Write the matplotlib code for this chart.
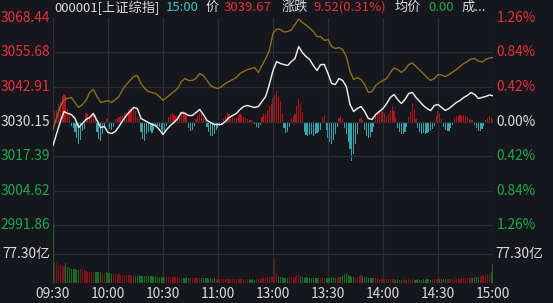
import numpy as np
import matplotlib
matplotlib.use("Agg")
import matplotlib.pyplot as plt

plt.rcParams['font.family'] = ['Noto Sans CJK SC', 'DejaVu Sans']

# ---------------- data ----------------
prev_close = 3030.15
price_ticks = [3068.44, 3055.68, 3042.91, 3030.15, 3017.39, 3004.62, 2991.86]
pct_labels = ['1.26%', '0.84%', '0.42%', '0.00%', '0.42%', '0.84%', '1.26%']
time_labels = ['09:30', '10:00', '10:30', '11:00', '13:00', '13:30', '14:00', '14:30', '15:00']
time_pos = [0, 30, 60, 90, 120, 150, 180, 210, 240]
vol_tick = 77.30

# index price, sampled every 2 minutes (121 points)
price = [3021.27, 3025.71, 3030.15, 3033.85, 3033.11, 3032.74, 3031.26, 3027.93, 3029.41, 3030.89,
         3031.63, 3033.11, 3030.52, 3027.93, 3028.30, 3026.08, 3025.71, 3026.45, 3028.30, 3030.52,
         3032.37, 3033.85, 3035.33, 3034.96, 3031.26, 3030.52, 3029.78, 3029.04, 3028.67, 3027.19,
         3025.34, 3027.19, 3028.67, 3029.78, 3031.26, 3033.48, 3033.11, 3032.37, 3032.37, 3033.48,
         3034.59, 3032.74, 3030.52, 3029.78, 3029.04, 3029.04, 3029.04, 3030.15, 3031.63, 3032.37,
         3033.11, 3034.59, 3035.70, 3036.07, 3035.70, 3035.33, 3035.70, 3037.55, 3039.40, 3043.83,
         3049.01, 3052.34, 3051.60, 3051.23, 3050.86, 3052.34, 3053.45, 3057.89, 3055.67, 3054.19,
         3053.08, 3050.86, 3049.01, 3051.23, 3051.23, 3047.90, 3044.20, 3043.83, 3046.05, 3045.31,
         3043.10, 3036.44, 3033.85, 3034.96, 3035.70, 3033.85, 3031.26, 3030.89, 3032.74, 3033.85,
         3034.96, 3036.81, 3039.03, 3040.14, 3038.29, 3036.81, 3038.29, 3040.51, 3040.88, 3039.03,
         3037.55, 3036.07, 3034.96, 3034.22, 3036.07, 3036.44, 3035.33, 3034.22, 3034.96, 3036.07,
         3037.18, 3037.92, 3039.03, 3039.77, 3040.88, 3040.14, 3038.66, 3039.03, 3039.40, 3039.95,
         3039.67]

# gold reference line, sampled every 2 minutes (121 points)
ref_line = [3027.19, 3031.63, 3035.70, 3038.29, 3038.66, 3039.03, 3037.18, 3035.33, 3036.44, 3037.92,
            3040.88, 3041.99, 3039.40, 3037.18, 3037.55, 3037.92, 3037.18, 3038.29, 3039.40, 3041.99,
            3043.83, 3045.31, 3046.79, 3047.16, 3044.20, 3042.36, 3041.25, 3040.88, 3040.51, 3039.40,
            3037.92, 3039.03, 3040.14, 3041.25, 3042.36, 3044.94, 3046.05, 3045.31, 3045.31, 3046.05,
            3047.90, 3047.16, 3045.31, 3043.46, 3042.73, 3042.36, 3043.10, 3044.20, 3044.94, 3045.68,
            3046.42, 3047.90, 3048.64, 3049.38, 3049.75, 3050.12, 3048.27, 3050.86, 3053.45, 3056.41,
            3062.70, 3064.36, 3064.18, 3063.25, 3063.44, 3063.99, 3066.03, 3068.06, 3066.77, 3065.84,
            3064.73, 3063.44, 3061.59, 3061.59, 3060.11, 3060.48, 3057.89, 3057.15, 3057.52, 3056.78,
            3054.19, 3048.64, 3045.68, 3046.42, 3045.68, 3043.83, 3040.88, 3041.25, 3043.46, 3044.57,
            3045.31, 3046.05, 3048.27, 3049.94, 3049.38, 3048.27, 3049.38, 3051.23, 3051.79, 3050.49,
            3049.20, 3047.90, 3046.42, 3045.31, 3046.05, 3047.53, 3047.35, 3046.79, 3047.53, 3048.46,
            3049.38, 3050.49, 3051.60, 3052.34, 3053.27, 3053.45, 3052.53, 3052.16, 3053.08, 3053.64,
            3053.82]

# per-minute strength bars (241)
strength = [8, 11, 12, 18, 20, 26, 28, 27, 13, 10,
            -4, -6, -10, -16, -22, -18, -9, -7, 9, 8,
            5, 6, 8, 7, -10, -17, -19, -12, -6, 3,
            4, -7, -8, -5, 3, 4, 5, 6, 7, 9,
            10, 12, 13, 14, 13, 11, 5, 3, -10, -17,
            -19, -12, -10, -9, -11, -8, -5, -4, -5, -8,
            -11, -9, -4, 5, 8, 9, 7, 6, 6, 5,
            8, 11, 10, 6, -6, -9, -8, -4, 3, 7,
            9, 8, 4, 3, -5, -10, -14, -14, -12, -8,
            -6, -4, -2, 3, 6, 9, 8, 6, 5, 4,
            4, 6, 8, 7, 5, 4, 3, 2, 2, 1,
            -2, -5, -6, -3, 5, 8, 8, 12, 16, 18,
            24, 27, 31, 25, 21, 9, -6, -11, -10, -5,
            4, 6, 8, 16, 23, 18, 10, -10, -13, -14,
            -13, -12, -14, -12, -11, -10, -8, 5, 7, -8,
            -16, -20, -22, -18, -12, -5, 4, 6, 3, -6,
            -12, -20, -27, -39, -32, -22, -12, 3, 4, 2,
            -8, -14, -16, -15, -10, -5, 6, 10, 11, 13,
            10, 9, 6, 8, 12, 16, 11, 4, -6, -10,
            -12, -12, -10, -5, 5, 10, 18, 13, 3, -6,
            -10, -12, -11, -12, -11, -10, -9, -7, -4, 6,
            11, 9, 3, -5, -8, -9, -9, -6, -3, 4,
            6, 6, 7, 6, 7, 6, 5, 3, 2, 2,
            -3, -6, -9, -9, -7, -4, 2, 4, 6, 4,
            2]

# per-minute volume, 亿 (241)
volume = [154, 56, 53, 48, 48, 45, 45, 53, 43, 40,
          37, 37, 37, 35, 35, 37, 37, 35, 32, 29,
          29, 29, 29, 29, 29, 29, 29, 27, 27, 29,
          27, 27, 24, 24, 24, 22, 24, 22, 21, 21,
          22, 21, 21, 19, 21, 19, 19, 22, 19, 19,
          19, 19, 18, 19, 18, 17, 18, 16, 17, 16,
          16, 16, 15, 16, 15, 15, 16, 16, 15, 14,
          15, 14, 14, 15, 13, 14, 13, 14, 13, 13,
          12, 12, 13, 12, 12, 11, 12, 11, 12, 11,
          11, 11, 11, 11, 10, 11, 10, 11, 10, 10,
          10, 10, 11, 10, 10, 9, 10, 10, 9, 10,
          9, 10, 10, 11, 12, 13, 14, 15, 16, 16,
          17, 67, 27, 19, 16, 15, 14, 13, 14, 16,
          15, 14, 16, 21, 27, 19, 16, 14, 15, 13,
          14, 13, 14, 12, 13, 14, 13, 12, 13, 12,
          13, 14, 16, 15, 14, 13, 15, 17, 19, 24,
          27, 22, 19, 16, 15, 14, 16, 18, 21, 19,
          16, 15, 14, 13, 12, 13, 14, 12, 11, 12,
          11, 10, 10, 10, 10, 10, 10, 9, 10, 9,
          9, 10, 9, 9, 10, 9, 10, 9, 9, 10,
          9, 9, 10, 9, 10, 10, 9, 10, 11, 10,
          11, 10, 11, 10, 11, 11, 10, 11, 11, 12,
          11, 12, 11, 12, 12, 13, 12, 13, 14, 13,
          15, 16, 15, 17, 19, 21, 19, 24, 27, 29,
          51]

# ---------------- style ----------------
BG = '#15171c'
GRID = '#2b2e35'
RED = '#e5323b'
GREEN = '#1ea84c'
WHITE = '#dcdcdc'
CYAN = '#3cc6c8'
BAR_RED = '#b3141c'
BAR_TEAL = '#36a5ac'
VOL_RED = '#7a161b'
VOL_GREEN = '#1b6a26'
W, H = 553, 303
FS = 9.9
HFS = 9.5


def px_rect(l, t, r, b):
    return [l / W, 1 - b / H, (r - l) / W, (b - t) / H]


fig = plt.figure(figsize=(W / 100, H / 100), dpi=100, facecolor=BG)

# strength bars (own axis, behind)
axb = fig.add_axes(px_rect(53, 18, 493, 225))
axb.set_facecolor(BG)
sx = np.arange(len(strength))
axb.bar(sx, strength, width=0.65, color=[BAR_RED if v > 0 else BAR_TEAL for v in strength],
        linewidth=0)
axb.set_xlim(0, 240)
axb.set_ylim(-103.5, 103.5)
axb.axis('off')

# price axis (transparent, on top)
ax = fig.add_axes(px_rect(53, 18, 493, 225))
ax.set_facecolor('none')
ax.set_xlim(0, 240)
ax.set_ylim(price_ticks[-1], price_ticks[0])
for s in ax.spines.values():
    s.set_visible(False)
ax.set_xticks([])
ax.set_yticks([])
for p in price_ticks[1:]:
    ax.axhline(p, color=GRID, lw=0.9, zorder=0)
for t in time_pos:
    ax.axvline(t, color=GRID, lw=0.9, zorder=0)

px = np.arange(len(price)) * 2
rx = np.arange(len(ref_line)) * 2
ax.plot(rx, ref_line, color='#8d6f1f', lw=1.0, zorder=3)
ax.plot(px, price, color='#ececec', lw=1.05, zorder=4)

ytr = ax.get_yaxis_transform()
for i, (p, lab) in enumerate(zip(price_ticks, pct_labels)):
    c = RED if p > prev_close else (GREEN if p < prev_close else WHITE)
    ax.text(-0.006, p, f'{p:.2f}', transform=ytr, ha='right', va='center',
            color=c, fontsize=FS, clip_on=False)
    ax.text(1.008, p, lab, transform=ytr, ha='left', va='center',
            color=c, fontsize=FS, clip_on=False)

# volume axis
axv = fig.add_axes(px_rect(53, 225, 493, 283))
axv.set_facecolor('none')
axv.set_xlim(0, 240)
axv.set_ylim(0, 2 * vol_tick)
vx = np.arange(len(volume))
vcol = []
for m in range(len(volume)):
    if m == 0:
        up = price[0] >= prev_close
    else:
        s = min((m - 1) // 2, len(price) - 2)
        up = price[s + 1] >= price[s]
    vcol.append(VOL_RED if up else VOL_GREEN)
axv.bar(vx, volume, width=0.72, color=vcol, linewidth=0, zorder=2)
for s in axv.spines.values():
    s.set_visible(False)
axv.axhline(2 * vol_tick, color=GRID, lw=0.9, zorder=0)
axv.axhline(vol_tick, color=GRID, lw=0.9, zorder=0)
axv.axhline(0, color=GRID, lw=0.9, zorder=0)
for t in time_pos:
    axv.axvline(t, color=GRID, lw=0.9, zorder=0)
axv.set_yticks([])
axv.set_xticks(time_pos)
axv.set_xticklabels(time_labels, color=WHITE, fontsize=FS)
axv.tick_params(axis='x', length=0, pad=3)
vtr = axv.get_yaxis_transform()
axv.text(-0.006, vol_tick, f'{vol_tick:.2f}亿', transform=vtr, ha='right', va='center',
         color=WHITE, fontsize=FS, clip_on=False)
axv.text(1.006, vol_tick, f'{vol_tick:.2f}亿', transform=vtr, ha='left', va='center',
         color=WHITE, fontsize=FS, clip_on=False)

# header
chg = price[-1] - prev_close
header = [
    (54, '000001[上证综指]', WHITE),
    (166, '15:00', CYAN),
    (206, '价', WHITE),
    (224, f'{price[-1]:.2f}', RED),
    (282, '涨跌', WHITE),
    (313, f'{chg:.2f}({chg / prev_close * 100:.2f}%)', RED),
    (395, '均价', WHITE),
    (428, '0.00', GREEN),
    (462, '成...', WHITE),
]
for x, s, c in header:
    fig.text(x / W, 1 - 7.5 / H, s, color=c, fontsize=HFS, ha='left', va='center')

fig.savefig('out.png', dpi=100, facecolor=BG)
